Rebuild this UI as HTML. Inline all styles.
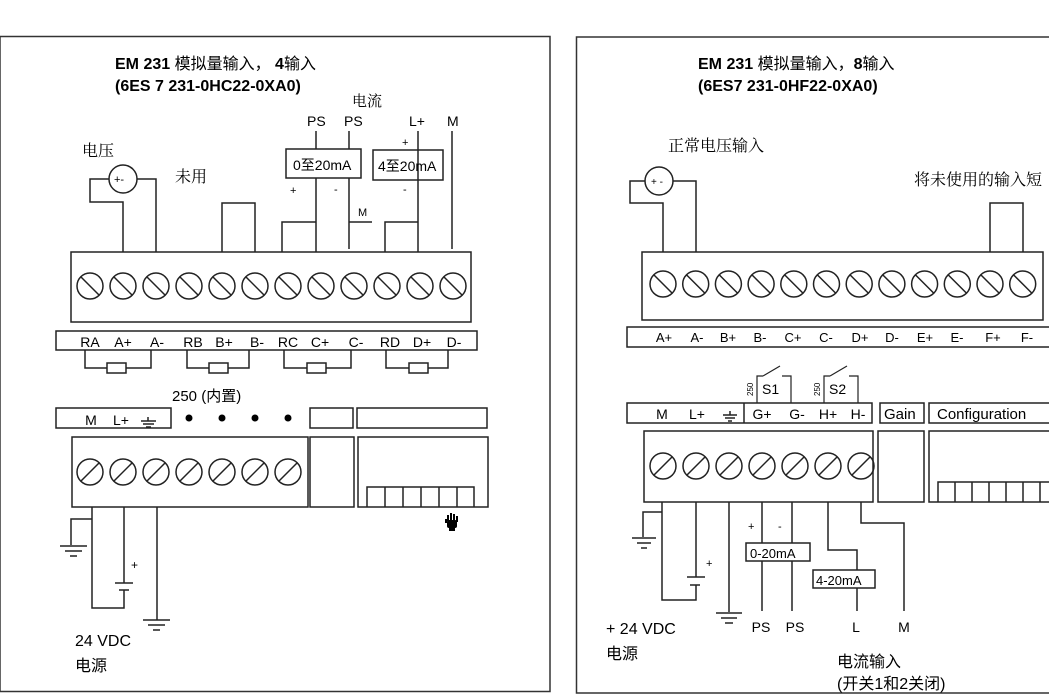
<!DOCTYPE html>
<html><head><meta charset="utf-8"><style>
html,body{margin:0;padding:0;background:#fff;}
svg{display:block;}
text{font-family:"Liberation Sans","Noto Sans CJK SC",sans-serif;fill:#000;}
.cn{font-family:"Noto Serif CJK SC","Noto Sans CJK SC",serif;}
</style></head><body>
<svg width="1049" height="697" viewBox="0 0 1049 697" xmlns="http://www.w3.org/2000/svg">
<g fill="none" stroke="#222" stroke-width="1.5">
<rect x="0" y="36.5" width="550" height="655" stroke="#333"/>
<rect x="576.5" y="37" width="480" height="656" stroke="#333"/>

<circle cx="123" cy="179" r="14"/>
<path d="M109,179 H90 V202 H123 V252 M137,179 H156 V252"/>
<path d="M222,252 V203 H255 V252"/>
<rect x="286" y="149" width="75" height="29"/>
<rect x="373" y="150" width="70" height="30"/>
<path d="M316,131 V149 M349,131 V149 M316,178 V252 M349,178 V249 M349,222 H372 M282,252 V222 H316"/>
<path d="M418,131 V252 M385,252 V222 H418 M452,131 V249"/>
<rect x="71" y="252" width="400" height="70"/>
<rect x="56" y="331" width="421" height="19"/>
<path d="M85,350 V368 H151 V350 M187,350 V368 H249 V350 M284,350 V368 H351 V350 M386,350 V368 H448 V350"/>
<rect x="107" y="363" width="19" height="10" fill="#fff"/>
<rect x="209" y="363" width="19" height="10" fill="#fff"/>
<rect x="307" y="363" width="19" height="10" fill="#fff"/>
<rect x="409" y="363" width="19" height="10" fill="#fff"/>
<rect x="56" y="408" width="115" height="20"/>
<rect x="310" y="408" width="43" height="20"/>
<rect x="357" y="408" width="130" height="20"/>
<rect x="72" y="437" width="236" height="70"/>
<rect x="310" y="437" width="44" height="70"/>
<rect x="358" y="437" width="130" height="70"/>
<path d="M367,507 V487 H474 V507 M385,487 V507 M403,487 V507 M421,487 V507 M439,487 V507 M457,487 V507"/>
<path d="M92,507 V608 H124 V590 M124,507 V583 M115,583 H133 M119,590 H129 M92,519 H71 V545 M60,546 H87 M65,551 H82 M70,556 H77"/>
<path d="M157,507 V620 M143,620 H170 M148,625 H165 M153,630 H160"/>
<path d="M148,417 V421 M141,421 H156 M143,424 H154 M146,427 H151"/>

<circle cx="659" cy="181" r="14"/>
<path d="M645,181 H630 V203 H663 V252 M673,181 H696 V252"/>
<path d="M990,252 V203 H1023 V252"/>
<rect x="642" y="252" width="401" height="68"/>
<rect x="627" y="327" width="425" height="20"/>
<path d="M757,403 V376 H763 M763,376 L780,366 M782,376 H791 V403 M824,403 V376 H830 M830,376 L847,366 M849,376 H858 V403" stroke-width="1.2"/>
<rect x="627" y="403" width="245" height="20"/>
<path d="M744,403 V423"/>
<rect x="880" y="403" width="44" height="20"/>
<rect x="929" y="403" width="130" height="20"/>
<rect x="644" y="431" width="229" height="71"/>
<rect x="878" y="431" width="46" height="71"/>
<rect x="929" y="431" width="130" height="71"/>
<path d="M938,502 V482 H1049 M955,482 V502 M972,482 V502 M989,482 V502 M1006,482 V502 M1023,482 V502 M1040,482 V502"/>
<path d="M730,411 V415 M723,415 H737 M725,418 H735 M728,421 H732"/>
<path d="M662,502 V600 H696 V585 M696,502 V577 M687,577 H705 M690,585 H700 M662,512 H643 V537 M632,538 H656 M637,543 H651 M641,548 H647"/>
<path d="M729,502 V612 M716,613 H742 M721,618 H737 M725,623 H733"/>
<path d="M762,502 V611 M792,502 V611 M828,502 V550 H857 V611 M861,502 V523 H904 V611"/>
<rect x="746" y="543" width="64" height="18" fill="#fff"/>
<rect x="813" y="570" width="62" height="18" fill="#fff"/>
</g>

<g fill="none" stroke="#222" stroke-width="1.5">
<g id="sl">
<circle cx="90" cy="286" r="13"/><path d="M81,277 L99,295"/>
</g>
<use href="#sl" x="33"/><use href="#sl" x="66"/><use href="#sl" x="99"/><use href="#sl" x="132"/><use href="#sl" x="165"/><use href="#sl" x="198"/><use href="#sl" x="231"/><use href="#sl" x="264"/><use href="#sl" x="297"/><use href="#sl" x="330"/><use href="#sl" x="363"/>
<g id="sr"><circle cx="663" cy="284" r="13"/><path d="M654,275 L672,293"/></g>
<use href="#sr" x="32.7"/><use href="#sr" x="65.4"/><use href="#sr" x="98.1"/><use href="#sr" x="130.8"/><use href="#sr" x="163.5"/><use href="#sr" x="196.2"/><use href="#sr" x="228.9"/><use href="#sr" x="261.6"/><use href="#sr" x="294.3"/><use href="#sr" x="327"/><use href="#sr" x="359.7"/>
<g id="bl"><circle cx="90" cy="472" r="13"/><path d="M81,481 L99,463"/></g>
<use href="#bl" x="33"/><use href="#bl" x="66"/><use href="#bl" x="99"/><use href="#bl" x="132"/><use href="#bl" x="165"/><use href="#bl" x="198"/>
<g id="br"><circle cx="663" cy="466" r="13"/><path d="M654,475 L672,457"/></g>
<use href="#br" x="33"/><use href="#br" x="66"/><use href="#br" x="99"/><use href="#br" x="132"/><use href="#br" x="165"/><use href="#br" x="198"/>
</g>
<g fill="#000"><circle cx="189" cy="418" r="3.5"/><circle cx="222" cy="418" r="3.5"/><circle cx="255" cy="418" r="3.5"/><circle cx="288" cy="418" r="3.5"/></g>
<!-- hand icon -->
<g fill="#000"><rect x="447" y="520" width="10" height="8" rx="2"/><rect x="447" y="515" width="2" height="6"/><rect x="450" y="513" width="2" height="7"/><rect x="453" y="514" width="2" height="6"/><rect x="456" y="516" width="2" height="6"/><rect x="445" y="519" width="2" height="4"/><rect x="449" y="528" width="6" height="3"/></g>

<text x="115" y="69" font-size="16" font-weight="bold">EM 231 <tspan font-weight="normal">模拟量输入，</tspan> 4<tspan font-weight="normal">输入</tspan></text>
<text x="115" y="91" font-size="16" font-weight="bold">(6ES 7 231-0HC22-0XA0)</text>
<text x="352" y="106" font-size="15" class="cn">电流</text>
<g font-size="14"><text x="307" y="126">PS</text><text x="344" y="126">PS</text><text x="409" y="126">L+</text><text x="447" y="126">M</text></g>
<text x="82" y="156" font-size="16" class="cn">电压</text>
<text x="175" y="182" font-size="16" class="cn">未用</text>
<text x="114" y="183" font-size="11">+-</text>
<text x="293" y="170" font-size="14">0至20mA</text>
<text x="378" y="171" font-size="14">4至20mA</text>
<g font-size="11"><text x="290" y="194">+</text><text x="334" y="193">-</text><text x="402" y="146">+</text><text x="403" y="193">-</text><text x="358" y="216">M</text></g>
<g font-size="14" text-anchor="middle"><text x="90" y="347">RA</text><text x="123" y="347">A+</text><text x="157" y="347">A-</text><text x="193" y="347">RB</text><text x="224" y="347">B+</text><text x="257" y="347">B-</text><text x="288" y="347">RC</text><text x="320" y="347">C+</text><text x="356" y="347">C-</text><text x="390" y="347">RD</text><text x="422" y="347">D+</text><text x="454" y="347">D-</text></g>
<text x="172" y="401" font-size="15">250 (内置)</text>
<g font-size="14" text-anchor="middle"><text x="91" y="425">M</text><text x="121" y="425">L+</text></g>
<text x="131" y="569" font-size="12">+</text>
<text x="75" y="646" font-size="16">24 VDC</text>
<text x="75" y="671" font-size="16">电源</text>

<text x="698" y="69" font-size="16" font-weight="bold">EM 231 <tspan font-weight="normal">模拟量输入，</tspan>8<tspan font-weight="normal">输入</tspan></text>
<text x="698" y="91" font-size="16" font-weight="bold">(6ES7 231-0HF22-0XA0)</text>
<text x="668" y="151" font-size="16" class="cn">正常电压输入</text>
<text x="914" y="185" font-size="16" class="cn">将未使用的输入短</text>
<text x="651" y="185" font-size="10">+ -</text>
<g font-size="13" text-anchor="middle" fill="#333"><text x="664" y="342">A+</text><text x="697" y="342">A-</text><text x="728" y="342">B+</text><text x="760" y="342">B-</text><text x="793" y="342">C+</text><text x="826" y="342">C-</text><text x="860" y="342">D+</text><text x="892" y="342">D-</text><text x="925" y="342">E+</text><text x="957" y="342">E-</text><text x="993" y="342">F+</text><text x="1027" y="342">F-</text></g>
<g font-size="14" text-anchor="middle" fill="#333"><text x="662" y="419">M</text><text x="697" y="419">L+</text><text x="762" y="419">G+</text><text x="797" y="419">G-</text><text x="828" y="419">H+</text><text x="858" y="419">H-</text></g>
<text x="884" y="419" font-size="15" fill="#333">Gain</text>
<text x="937" y="419" font-size="15" fill="#333">Configuration</text>
<text x="762" y="394" font-size="14">S1</text><text x="829" y="394" font-size="14">S2</text>
<text x="753" y="396" font-size="8" transform="rotate(-90 753 396)">250</text>
<text x="820" y="396" font-size="8" transform="rotate(-90 820 396)">250</text>
<text x="748" y="530" font-size="11">+</text><text x="778" y="530" font-size="11">-</text>
<text x="706" y="567" font-size="11">+</text>
<text x="750" y="558" font-size="13">0-20mA</text>
<text x="816" y="585" font-size="13">4-20mA</text>
<g font-size="14" text-anchor="middle" fill="#333"><text x="761" y="632">PS</text><text x="795" y="632">PS</text><text x="856" y="632">L</text><text x="904" y="632">M</text></g>
<text x="606" y="634" font-size="16">+ 24 VDC</text>
<text x="606" y="659" font-size="16">电源</text>
<text x="837" y="667" font-size="16">电流输入</text>
<text x="837" y="689" font-size="16">(开关1和2关闭)</text>
</svg>
</body></html>
